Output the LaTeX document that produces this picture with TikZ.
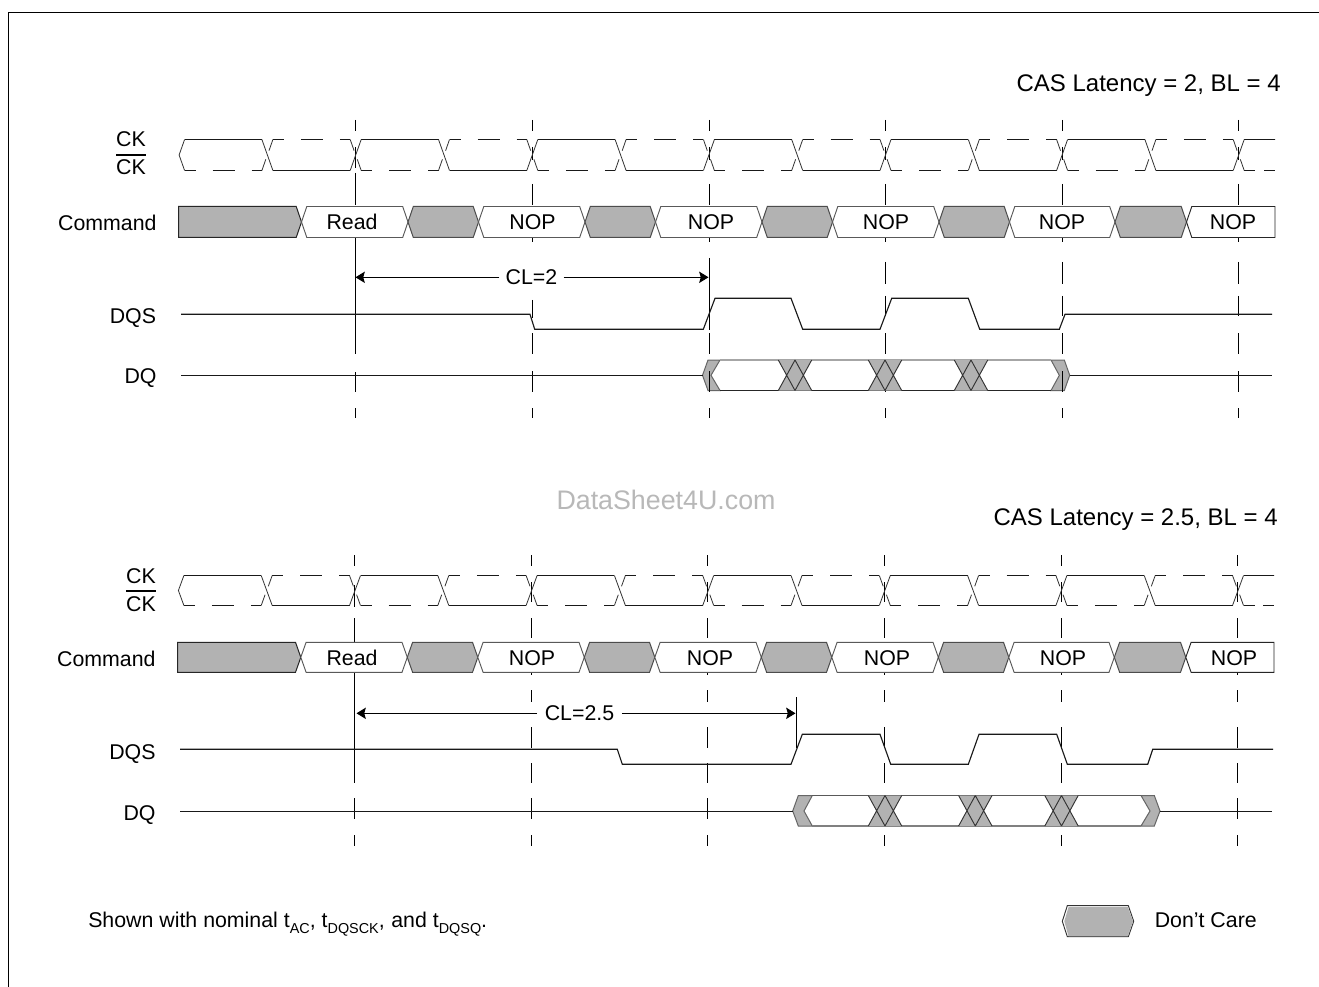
\documentclass[tikz,border=0pt]{standalone}
\usepackage{fontspec}
\setmainfont{Liberation Sans}
\usetikzlibrary{arrows.meta}
\definecolor{dc}{HTML}{B2B2B2}
\tikzset{
  px/.style={x=0.75pt,y=-0.75pt},
  wire/.style={line width=0.7pt,black!90},
  thin wire/.style={line width=0.6pt,black!80},
  tick/.style={line width=0.75pt,black},
  grayseg/.style={draw=black!70,line width=0.75pt,fill=dc},
  whiteseg/.style={draw=black!65,line width=0.7pt,fill=white},
  xgroup/.style={draw=black!80,line width=0.7pt,fill=dc},
  txt/.style={anchor=base,inner sep=0pt,font=\fontsize{16}{19}\selectfont},
  rtxt/.style={txt,anchor=base east},
  ltxt/.style={txt,anchor=base west},
  dim/.style={line width=0.75pt,black},
  dimtip/.style={dim,-{Stealth[length=7pt,width=8.5pt,inset=1.2pt]}},
}
\newcommand\subs[1]{\raisebox{-4pt}{\fontsize{10.8}{12}\selectfont #1}}
% vertical reference dashes: x, list of from/to
\newcommand\vsegs[2]{\foreach \ya/\yb in {#2}{\draw[tick] (#1,\ya) -- (#1,\yb);}}
% clock pair: first crossing, high, low, right end
\newcommand\clocktrace[4]{%
  \pgfmathsetmacro\tipx{#1-88.3}
  \pgfmathsetmacro\midy{(#2+#3)/2}
  \pgfmathsetmacro\stx{#1-82.8}
  \draw[thin wire] (\stx,#2) -- (\tipx,\midy) -- (\stx,#3);
  \begin{scope}
  \clip (0,0) rectangle (#4,987);
  \foreach \k in {-1,...,11}{
    \pgfmathsetmacro\c{#1+88.3*\k}
    \pgfmathtruncatemacro\odd{mod(\k+2,2)}
    \ifnum\odd=1 \def\ya{#3}\def\yb{#2}\else \def\ya{#2}\def\yb{#3}\fi
    \pgfmathsetmacro\la{\c+5.5}
    \pgfmathsetmacro\lb{\c+82.8}
    \draw[wire] (\la,\yb) -- (\lb,\yb);
    \pgfmathsetmacro\da{\la+11}\pgfmathsetmacro\db{\la+28}
    \pgfmathsetmacro\dc{\la+50}\pgfmathsetmacro\dd{\la+67}
    \ifnum\k<11
      \draw[wire] (\la,\ya) -- (\da,\ya) (\db,\ya) -- (\dc,\ya) (\dd,\ya) -- (\lb,\ya);
    \else
      \pgfmathsetmacro\de{#4-11}
      \draw[wire] (\la,\ya) -- (\da,\ya) (\de,\ya) -- (#4,\ya);
    \fi
    \ifnum\k>-1
      \pgfmathsetmacro\pa{\c-5.5}\pgfmathsetmacro\pb{\c-1.6}
      \pgfmathsetmacro\pc{\c+1.6}\pgfmathsetmacro\pd{\c+5.5}
      \pgfmathsetmacro\qa{\yb+0.36*(\ya-\yb)}\pgfmathsetmacro\qb{\yb+0.64*(\ya-\yb)}
      \draw[thin wire] (\pa,\ya) -- (\pd,\yb);
      \draw[thin wire] (\pa,\yb) -- (\pb,\qa) (\pc,\qb) -- (\pd,\ya);
    \fi
  }
  \end{scope}}
% command segment: style, left crossing, right crossing, top, bottom
\newcommand\cmdseg[5]{%
  \pgfmathsetmacro\lc{#2+5.3}\pgfmathsetmacro\rc{#3-5.3}
  \pgfmathsetmacro\my{(#4+#5)/2}
  \draw[#1] (#2,\my) -- (\lc,#4) -- (\rc,#4) -- (#3,\my) -- (\rc,#5) -- (\lc,#5) -- cycle;}
% X group in the DQ band: centre, top, bottom
\newcommand\xgrp[3]{%
  \pgfmathsetmacro\my{(#2+#3)/2}
  \pgfmathsetmacro\xa{#1-16.7}\pgfmathsetmacro\xb{#1-8.35}\pgfmathsetmacro\xc{#1+8.35}\pgfmathsetmacro\xd{#1+16.7}
  \fill[dc] (\xa,#2) -- (\xd,#2) -- (\xc,\my) -- (\xd,#3) -- (\xa,#3) -- (\xb,\my) -- cycle;
  \draw[xgroup,fill=none] (\xa,#2) -- (#1,#3) (#1,#2) -- (\xa,#3) (#1,#2) -- (\xd,#3) (\xd,#2) -- (#1,#3);}
\begin{document}
\begin{tikzpicture}[px]
\useasboundingbox (0,0) rectangle (1319,987);
\fill[white] (0,0) rectangle (1319,987);
% frame
\coordinate (fa) at (8.5,987); \coordinate (fb) at (8.5,12.5); \coordinate (fc) at (1319,12.5);
\draw[line width=0.8pt,black] (fa) -- (fb) -- (fc);

% titles
\node[rtxt,font=\fontsize{18}{21}\selectfont] (title1) at (1281,91.5) {CAS Latency = 2, BL = 4};
\node[rtxt,font=\fontsize{18}{21}\selectfont] (title2) at (1278,525.5) {CAS Latency = 2.5, BL = 4};
\node[txt,text=black!28,font=\fontsize{20.1}{24}\selectfont] (wm) at (666,509) {DataSheet4U.com};

% ---------- upper diagram: DQ chevrons under the ticks
\draw[grayseg,draw=black!60] (702.5,375.3) -- (708,360) -- (720,360) -- (711,375.3) -- (720,390.5) -- (708,390.5) -- cycle;
\draw[grayseg,draw=black!60] (1051,360) -- (1064.3,360) -- (1069.7,375.3) -- (1064.3,390.5) -- (1051,390.5) -- (1059.3,375.3) -- cycle;
\draw[line width=0.8pt,black!35] (720,360) -- (1051,360);
\draw[line width=0.8pt,black!85] (720,390.5) -- (1051,390.5);
% ticks
\vsegs{355}{120/131,147/168,173/205,238/354,372/392,408/418}
\vsegs{532}{120/131,147/160,184/205,238/242,300/318,333/354,371/392,408/418}
\vsegs{709}{120/131,147/160,184/205,238/242,258/330,333/354,371/392,408/418}
\vsegs{885}{120/131,147/160,184/205,238/242,262/284,296/316,333/354,371/392,408/418}
\vsegs{1062}{120/131,147/160,184/205,238/242,262/284,296/316,333/354,371/392,408/418}
\vsegs{1238}{120/131,147/160,184/205,238/242,262/284,296/316,333/354,371/392,408/418}
\xgrp{795}{360}{390.5}\xgrp{885}{360}{390.5}\xgrp{971}{360}{390.5}
% clock
\clocktrace{267.4}{139.5}{170.5}{1275}
\draw[line width=1.3pt] (116,154.7) -- (146,154.7);
\node[txt] (ck1) at (131,146.7) {CK};
\node[txt] (ckb1) at (131,174.3) {CK};
% command
\draw[grayseg,draw=black!85] (178.5,206.5) -- (296.2,206.5) -- (301.5,222) -- (296.2,237.5) -- (178.5,237.5) -- cycle;
\cmdseg{whiteseg}{301.5}{408}{206.5}{237.5}
\cmdseg{grayseg}{408}{478.5}{206.5}{237.5}
\cmdseg{whiteseg}{478.5}{585}{206.5}{237.5}
\cmdseg{grayseg}{585}{655.5}{206.5}{237.5}
\cmdseg{whiteseg}{655.5}{762}{206.5}{237.5}
\cmdseg{grayseg}{762}{832.5}{206.5}{237.5}
\cmdseg{whiteseg}{832.5}{939}{206.5}{237.5}
\cmdseg{grayseg}{939}{1009.5}{206.5}{237.5}
\cmdseg{whiteseg}{1009.5}{1115}{206.5}{237.5}
\cmdseg{grayseg}{1115}{1186.5}{206.5}{237.5}
\draw[whiteseg,draw=black!85] (1186.5,222) -- (1191.8,206.5) -- (1275,206.5) -- (1275,237.5) -- (1191.8,237.5) -- cycle;
\node[txt] (r1) at (352,230) {Read};
\node[txt] (n11) at (532.5,230) {NOP};
\node[txt] (n12) at (711,230) {NOP};
\node[txt] (n13) at (886,230) {NOP};
\node[txt] (n14) at (1062,230) {NOP};
\node[txt] (n15) at (1233,230) {NOP};
% labels
\node[rtxt] (cmd1) at (156.8,230.7) {Command};
\node[rtxt] (dqs1) at (156.3,323.3) {DQS};
\node[rtxt] (dq1) at (156.8,383.7) {DQ};
% CL=2
\coordinate (cl1a) at (355.5,277.3); \coordinate (cl1b) at (708.5,277.3);
\node[txt,inner xsep=4.5pt] (cl1) at (531.5,285) {CL=2};
\draw[dimtip] (cl1a -| cl1.west) -- (cl1a);
\draw[dimtip] (cl1b -| cl1.east) -- (cl1b);
% DQS / DQ
\draw[wire,line width=0.85pt] (181,314.3) -- (530,314.3) -- (534.7,329.3) -- (703.3,329.3) -- (715,298.3) -- (791,298.3) -- (802.7,329.3) -- (880,329.3) -- (891.7,298.3) -- (968.3,298.3) -- (979.7,329.3) -- (1059.3,329.3) -- (1065,314.3) -- (1272,314.3);
\draw[wire,line width=0.85pt] (181,375.7) -- (702.5,375.7);
\draw[wire,line width=0.85pt] (1069.7,375.7) -- (1272,375.7);

% ---------- lower diagram
\draw[grayseg,draw=black!60] (792.7,811) -- (798.3,795.5) -- (812.3,795.5) -- (804,811) -- (812.3,826) -- (798.3,826) -- cycle;
\draw[grayseg,draw=black!60] (1141,795.5) -- (1154.3,795.5) -- (1160,811) -- (1154.3,826) -- (1141,826) -- (1150,811) -- cycle;
\draw[line width=0.8pt,black!65] (812.3,795.5) -- (1141,795.5);
\draw[line width=0.8pt,black!50] (812.3,826) -- (1141,826);
\vsegs{354}{555/566,585/607,618/642,673/783,798/819,835/846}
\vsegs{531.5}{555/566,582/602,618/638,673/675,690/702,727/748,763/783,798/819,835/846}
\vsegs{707.5}{555/566,582/602,618/638,673/675,690/702,727/748,763/783,798/819,835/846}
\vsegs{884.5}{555/566,582/602,618/638,673/675,690/702,727/748,763/783,798/819,835/846}
\vsegs{1061}{555/566,582/602,618/638,673/675,690/702,727/748,763/783,798/819,835/846}
\vsegs{1237}{555/566,582/602,618/638,673/675,690/702,727/748,763/783,798/819,835/846}
\vsegs{796}{697/748}
\xgrp{885}{795.5}{826}\xgrp{975.3}{795.5}{826}\xgrp{1061.5}{795.5}{826}
\clocktrace{266.7}{575.5}{605.5}{1274}
\draw[line width=1.3pt] (126,590.7) -- (156,590.7);
\node[txt] (ck2) at (141,583.3) {CK};
\node[txt] (ckb2) at (141,611) {CK};
\draw[grayseg,draw=black!85] (177.5,642.3) -- (295.5,642.3) -- (300.8,657.3) -- (295.5,672.3) -- (177.5,672.3) -- cycle;
\cmdseg{whiteseg}{300.8}{407.3}{642.3}{672.3}
\cmdseg{grayseg}{407.3}{477.8}{642.3}{672.3}
\cmdseg{whiteseg}{477.8}{584.3}{642.3}{672.3}
\cmdseg{grayseg}{584.3}{654.8}{642.3}{672.3}
\cmdseg{whiteseg}{654.8}{761.3}{642.3}{672.3}
\cmdseg{grayseg}{761.3}{831.8}{642.3}{672.3}
\cmdseg{whiteseg}{831.8}{938.3}{642.3}{672.3}
\cmdseg{grayseg}{938.3}{1008.8}{642.3}{672.3}
\cmdseg{whiteseg}{1008.8}{1114.3}{642.3}{672.3}
\cmdseg{grayseg}{1114.3}{1185.8}{642.3}{672.3}
\draw[whiteseg,draw=black!85] (1185.8,657.3) -- (1191.1,642.3) -- (1274,642.3) -- (1274,672.3) -- (1191.1,672.3) -- cycle;
\node[txt] (r2) at (352,665) {Read};
\node[txt] (n21) at (532,665) {NOP};
\node[txt] (n22) at (710,665) {NOP};
\node[txt] (n23) at (887,665) {NOP};
\node[txt] (n24) at (1063,665) {NOP};
\node[txt] (n25) at (1234,665) {NOP};
\node[rtxt] (cmd2) at (155.8,666.7) {Command};
\node[rtxt] (dqs2) at (155.8,759) {DQS};
\node[rtxt] (dq2) at (155.8,820) {DQ};
\coordinate (cl2a) at (356.5,713.3); \coordinate (cl2b) at (795.5,713.3);
\node[txt,inner xsep=5.5pt] (cl2) at (579.5,720) {CL=2.5};
\draw[dimtip] (cl2a -| cl2.west) -- (cl2a);
\draw[dimtip] (cl2b -| cl2.east) -- (cl2b);
\draw[wire,line width=0.85pt] (180,749.3) -- (617.3,749.3) -- (622.3,764.3) -- (791,764.3) -- (802.3,734.3) -- (880,734.3) -- (890.7,764.3) -- (968.3,764.3) -- (979,734.3) -- (1056.7,734.3) -- (1067.3,764.3) -- (1147.7,764.3) -- (1152.7,749.3) -- (1273,749.3);
\draw[wire,line width=0.85pt] (180,811.3) -- (792.7,811.3);
\draw[wire,line width=0.85pt] (1160,811.3) -- (1272,811.3);

% ---------- footer
\node[ltxt] (note) at (88,927.7) {Shown with nominal t\subs{AC}, t\subs{DQSCK}, \kern0.5pt and t\subs{DQSQ}.};
\draw[draw=black!80,line width=0.7pt,fill=white] (1062.3,921.3) -- (1067.3,905.7) -- (1128.3,905.7) -- (1133.7,921.3) -- (1128.3,936.7) -- (1067.3,936.7) -- cycle;
\fill[dc] (1064.3,921.3) -- (1068.5,907.2) -- (1127.8,907.2) -- (1133,921.3) -- (1127.8,936.3) -- (1068.5,936.3) -- cycle;
\node[ltxt] (dc) at (1154.5,927.3) {Don’t Care};
\end{tikzpicture}
\end{document}
